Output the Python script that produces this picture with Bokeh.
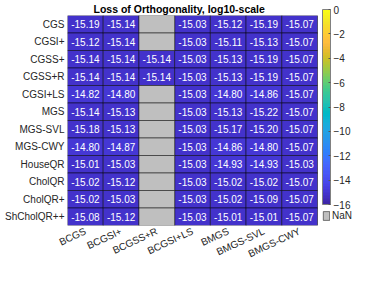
import numpy as np
from bokeh.plotting import figure
from bokeh.models import (ColumnDataSource, LinearColorMapper, ColorBar, FixedTicker,
                          Range1d, Legend, LegendItem)
from bokeh.core.properties import value
from bokeh.embed import file_html
from bokeh.resources import INLINE

# ---------------- data ----------------
row_labels = ["CGS", "CGSI+", "CGSS+", "CGSS+R", "CGSI+LS", "MGS", "MGS-SVL",
              "MGS-CWY", "HouseQR", "CholQR", "CholQR+", "ShCholQR++"]
col_labels = ["BCGS", "BCGSI+", "BCGSS+R", "BCGSI+LS", "BMGS", "BMGS-SVL", "BMGS-CWY"]

nan = float("nan")
col_BCGS     = [-15.19, -15.12, -15.14, -15.14, -14.82, -15.14, -15.18, -14.80, -15.01, -15.02, -15.02, -15.08]
col_BCGSIp   = [-15.14, -15.14, -15.14, -15.14, -14.80, -15.13, -15.13, -14.87, -15.03, -15.12, -15.03, -15.12]
col_BCGSSpR  = [nan, nan, -15.14, -15.14, nan, nan, nan, nan, nan, nan, nan, nan]
col_BCGSIpLS = [-15.03, -15.03, -15.03, -15.03, -15.03, -15.03, -15.03, -15.03, -15.03, -15.03, -15.03, -15.03]
col_BMGS     = [-15.12, -15.11, -15.13, -15.13, -14.80, -15.13, -15.17, -14.86, -14.93, -15.02, -15.02, -15.01]
col_BMGSSVL  = [-15.19, -15.13, -15.19, -15.19, -14.86, -15.22, -15.20, -14.80, -14.93, -15.02, -15.09, -15.01]
col_BMGSCWY  = [-15.07, -15.07, -15.07, -15.07, -15.07, -15.07, -15.07, -15.07, -15.03, -15.07, -15.07, -15.07]
columns = [col_BCGS, col_BCGSIp, col_BCGSSpR, col_BCGSIpLS, col_BMGS, col_BMGSSVL, col_BMGSCWY]

cbar_ticks = [-16, -14, -12, -10, -8, -6, -4, -2, 0]
clim_low, clim_high = -16, 0
title_text = "Loss of Orthogonality, log10-scale"

# ---------------- colormap (parula) ----------------
_parula = [
 (0.2422,0.1504,0.6603),(0.2504,0.1650,0.7076),(0.2578,0.1818,0.7511),(0.2647,0.1978,0.7952),
 (0.2706,0.2147,0.8364),(0.2751,0.2342,0.8710),(0.2783,0.2559,0.8991),(0.2803,0.2782,0.9221),
 (0.2813,0.3006,0.9414),(0.2810,0.3228,0.9579),(0.2795,0.3447,0.9717),(0.2760,0.3667,0.9829),
 (0.2699,0.3892,0.9906),(0.2602,0.4123,0.9952),(0.2440,0.4358,0.9988),(0.2206,0.4603,0.9973),
 (0.1963,0.4847,0.9892),(0.1834,0.5074,0.9798),(0.1786,0.5289,0.9682),(0.1764,0.5499,0.9520),
 (0.1687,0.5703,0.9359),(0.1540,0.5902,0.9218),(0.1460,0.6091,0.9079),(0.1380,0.6276,0.8973),
 (0.1248,0.6459,0.8883),(0.1113,0.6635,0.8763),(0.0952,0.6798,0.8598),(0.0689,0.6948,0.8394),
 (0.0297,0.7082,0.8163),(0.0036,0.7203,0.7917),(0.0067,0.7312,0.7660),(0.0433,0.7411,0.7394),
 (0.0964,0.7500,0.7120),(0.1408,0.7584,0.6842),(0.1717,0.7670,0.6554),(0.1938,0.7758,0.6251),
 (0.2161,0.7843,0.5923),(0.2470,0.7918,0.5567),(0.2906,0.7973,0.5188),(0.3406,0.8008,0.4789),
 (0.3909,0.8029,0.4354),(0.4456,0.8024,0.3909),(0.5044,0.7993,0.3480),(0.5616,0.7942,0.3045),
 (0.6174,0.7876,0.2612),(0.6720,0.7793,0.2227),(0.7242,0.7698,0.1910),(0.7738,0.7598,0.1646),
 (0.8203,0.7498,0.1535),(0.8634,0.7406,0.1596),(0.9035,0.7330,0.1774),(0.9393,0.7288,0.2100),
 (0.9728,0.7298,0.2394),(0.9956,0.7434,0.2371),(0.9970,0.7659,0.2199),(0.9952,0.7893,0.2028),
 (0.9892,0.8136,0.1885),(0.9786,0.8386,0.1766),(0.9676,0.8639,0.1643),(0.9610,0.8890,0.1537),
 (0.9597,0.9135,0.1423),(0.9628,0.9373,0.1265),(0.9691,0.9606,0.1064),(0.9769,0.9839,0.0805)]
palette = ["#%02x%02x%02x" % tuple(int(round(c * 255)) for c in rgb) for rgb in _parula]

# ---------------- sources ----------------
nrows, ncols = len(row_labels), len(col_labels)
xs, ys, vs, txt = [], [], [], []
nx, ny = [], []
for j, col in enumerate(columns):
    for i, v in enumerate(col):
        if np.isnan(v):
            nx.append(j + 0.5); ny.append(i + 0.5)
        else:
            xs.append(j + 0.5); ys.append(i + 0.5); vs.append(v); txt.append("%.2f" % v)
src = ColumnDataSource(dict(x=xs, y=ys, v=vs, t=txt))
nsrc = ColumnDataSource(dict(x=nx, y=ny))

mapper = LinearColorMapper(palette=palette, low=clim_low, high=clim_high)

# ---------------- layout constants ----------------
W, H = 358, 267
LEFT, TOP, BOTTOM = 67, 14, 37
HM_W = 250                      # heatmap width in px
GAP = 5
frame_w = W - LEFT
px_per_unit = HM_W / ncols
frame_h = H - TOP - BOTTOM

FONT = "Liberation Sans"
TXT = "#262626"

p = figure(width=W, height=H, output_backend="svg", toolbar_location=None,
           x_range=Range1d(0, frame_w / px_per_unit), y_range=Range1d(nrows, 0),
           min_border_left=LEFT, min_border_right=0, min_border_top=TOP,
           min_border_bottom=BOTTOM, title=title_text)
p.outline_line_color = None
p.grid.visible = False
p.background_fill_color = None
p.border_fill_color = "white"

p.title.text_font = FONT
p.title.text_font_size = "10.5px"
p.title.text_font_style = "bold"
p.title.text_color = "#000000"
p.title.align = "left"
p.title.offset = 26
p.title.standoff = 1

# cells
p.rect(x="x", y="y", width=1, height=1, source=src,
       fill_color={"field": "v", "transform": mapper},
       line_color="black", line_alpha=0.5, line_width=1)
nan_r = p.rect(x="x", y="y", width=1, height=1, source=nsrc,
               fill_color="#bfbfbf", line_color="black", line_alpha=0.5, line_width=1)
p.text(x="x", y="y", text="t", source=src, text_color="white",
       text_font=value(FONT), text_font_size="10px",
       text_align="center", text_baseline="middle")

# axes
for ax in (p.xaxis[0], p.yaxis[0]):
    ax.axis_line_color = None
    ax.major_tick_line_color = None
    ax.minor_tick_line_color = None
    ax.major_tick_out = 0
    ax.major_tick_in = 0
    ax.major_label_text_font = FONT
    ax.major_label_text_font_size = "10px"
    ax.major_label_text_color = TXT
p.xaxis.ticker = FixedTicker(ticks=[j + 0.5 for j in range(ncols)])
p.xaxis.major_label_overrides = {j + 0.5: c for j, c in enumerate(col_labels)}
p.xaxis.major_label_orientation = np.deg2rad(25)
p.xaxis.major_label_standoff = 5
p.yaxis.ticker = FixedTicker(ticks=[i + 0.5 for i in range(nrows)])
p.yaxis.major_label_overrides = {i + 0.5: r for i, r in enumerate(row_labels)}
p.yaxis.major_label_standoff = 3

# colorbar
cb_h = 195
cb = ColorBar(color_mapper=mapper, ticker=FixedTicker(ticks=cbar_ticks),
              width=8, height=cb_h, padding=0, margin=0,
              location=(HM_W + GAP, frame_h - cb_h),
              background_fill_color=None, border_line_color=None,
              bar_line_color="#808080", bar_line_width=1,
              major_tick_line_color="#555555", major_tick_in=2, major_tick_out=0,
              major_label_text_font=FONT, major_label_text_font_size="10px",
              major_label_text_color=TXT, label_standoff=3)
p.add_layout(cb, "center")

# NaN legend
leg = Legend(items=[LegendItem(label="NaN", renderers=[nan_r])],
             location=(HM_W + GAP, 4), padding=0, margin=0, spacing=0,
             glyph_width=8, glyph_height=11, label_height=11, label_standoff=2,
             label_text_font=FONT, label_text_font_size="10px", label_text_color=TXT,
             border_line_color=None, background_fill_alpha=0)
p.add_layout(leg, "center")

open("out.html", "w").write(file_html(p, INLINE))
